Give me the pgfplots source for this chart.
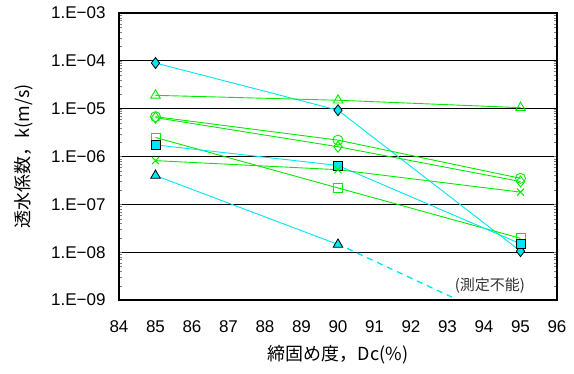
\documentclass[border=0pt]{standalone}
\usepackage{pgfplots}
\pgfplotsset{compat=1.18}
\usepackage{fontspec}
\setmainfont{Liberation Sans}
\newfontfamily\cjk{Noto Sans CJK JP}
\definecolor{cy}{RGB}{0,230,240}
\definecolor{gr}{RGB}{0,235,0}
\newcommand{\mn}{\char"2212\relax}
\begin{document}
\begin{tikzpicture}
\path[use as bounding box] (-119pt,-74pt) rectangle (455pt,300pt);
\begin{axis}[
  at={(0,0)}, anchor=south west,
  scale only axis, width=438pt, height=287pt,
  ymode=log, xmin=84, xmax=96, ymin=1e-9, ymax=1e-3,
  xtick={84,...,96}, ytick={1e-9,1e-8,1e-7,1e-6,1e-5,1e-4,1e-3},
  yticklabels={1.E\mn09,1.E\mn08,1.E\mn07,1.E\mn06,1.E\mn05,1.E\mn04,1.E\mn03},
  minor ytick={}, 
  major tick length=0pt,
  ymajorgrids, grid style={black, line width=1pt},
  axis line style={black, line width=1.4pt},
  tick label style={font=\fontsize{17}{19}\selectfont},
  /pgf/number format/assume math mode=true,
  xticklabel style={yshift=-17pt},
  yticklabel style={xshift=-10pt},
  xlabel={\cjk 締固め度，Dc(\%)},
  ylabel={\cjk 透水係数，k(m/s)},
  label style={font=\cjk\fontsize{18}{20}\selectfont},
  xlabel style={at={(axis description cs:0.5,0)}, anchor=center, yshift=-55pt},
  ylabel style={at={(axis description cs:0,0.5)}, anchor=center, yshift=95pt},
  clip=false,
  every axis plot/.append style={line width=0.9pt},
]
% cyan diamond
\addplot[cy, mark=diamond*, mark size=5.5pt, mark options={fill=cy, draw=black, line width=0.8pt}] coordinates {(85,9e-5) (90,9.3e-6) (95,1.05e-8)};
% green open triangle
\addplot[gr, mark=triangle, mark size=5.5pt, mark options={gr}] coordinates {(85,1.9e-5) (90,1.5e-5) (95,1.05e-5)};
% green circle
\addplot[gr, mark=o, mark size=5pt, mark options={gr}] coordinates {(85,6.8e-6) (90,2.2e-6) (95,3.5e-7)};
% green diamond
\addplot[gr, mark=diamond, mark size=5.5pt, mark options={gr}] coordinates {(85,6.5e-6) (90,1.6e-6) (95,3.0e-7)};
% green square
\addplot[gr, mark=square, mark size=4.5pt, mark options={gr}] coordinates {(85,2.5e-6) (90,2.2e-7) (95,1.95e-8)};
% cyan square
\addplot[cy, mark=square*, mark size=4.5pt, mark options={fill=cy, draw=black, line width=0.8pt}] coordinates {(85,1.75e-6) (90,6.5e-7) (95,1.5e-8)};
% green x
\addplot[gr, mark=x, mark size=5pt, mark options={gr}] coordinates {(85,8.2e-7) (90,5.3e-7) (95,1.8e-7)};
% cyan triangle
\addplot[cy, mark=triangle*, mark size=5.5pt, mark options={fill=cy, draw=black, line width=0.8pt}] coordinates {(85,4e-7) (90,1.45e-8)};
\addplot[cy, dashed, dash pattern=on 6pt off 5pt, line width=1.3pt] coordinates {(90.25,1.2e-8) (93.12,1.15e-9)};
\node[font=\cjk\fontsize{15}{17}\selectfont, text=black!80] at (axis cs:94.16,2.0e-9) {(測定不能)};
\end{axis}
\end{tikzpicture}
\end{document}
